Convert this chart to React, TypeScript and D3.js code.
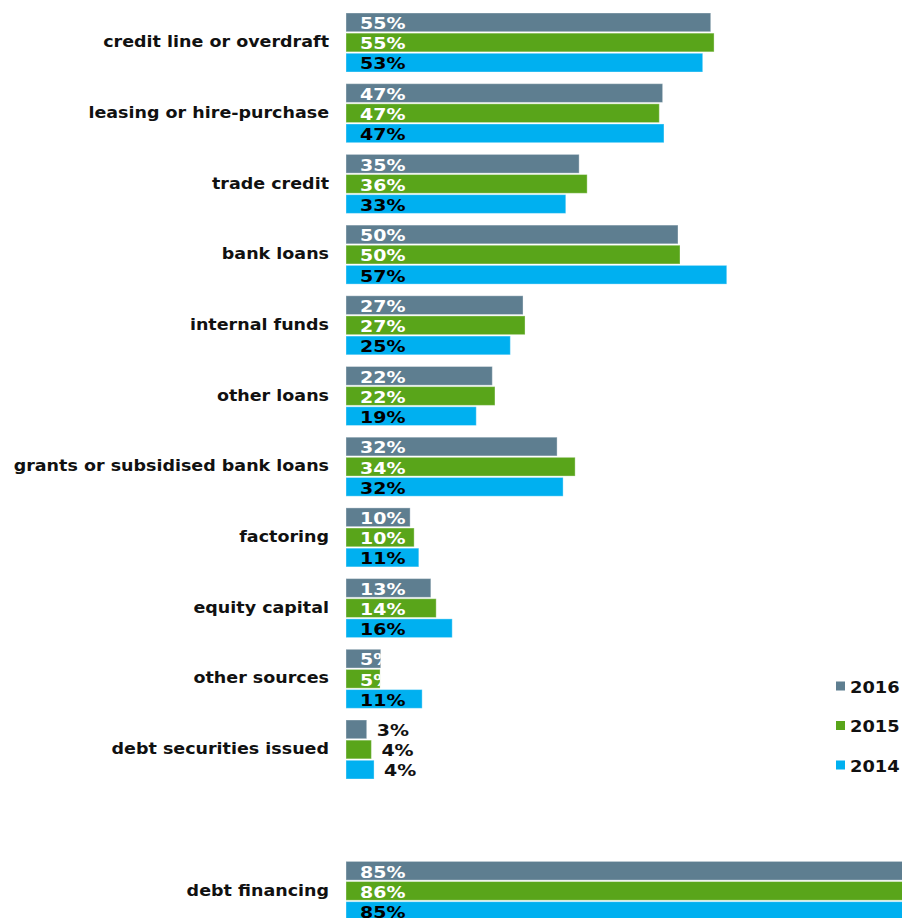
import React from "react";
import * as d3 from "d3";

const categories = [
  "credit line or overdraft",
  "leasing or hire-purchase",
  "trade credit",
  "bank loans",
  "internal funds",
  "other loans",
  "grants or subsidised bank loans",
  "factoring",
  "equity capital",
  "other sources",
  "debt securities issued",
  "",
  "debt financing",
];
const series = ["2016", "2015", "2014"];
const values2016 = [54.6, 47.4, 34.9, 49.7, 26.5, 21.9, 31.6, 9.6, 12.7, 5.2, 3.1, null, 85.2];
const values2015 = [55.1, 46.9, 36.1, 50.0, 26.8, 22.3, 34.3, 10.2, 13.5, 5.1, 3.8, null, 86.0];
const values2014 = [53.4, 47.6, 32.9, 57.0, 24.6, 19.5, 32.5, 10.9, 15.9, 11.4, 4.2, null, 85.0];
const labels2016 = ["55%", "47%", "35%", "50%", "27%", "22%", "32%", "10%", "13%", "5%", "3%", "", "85%"];
const labels2015 = ["55%", "47%", "36%", "50%", "27%", "22%", "34%", "10%", "14%", "5%", "4%", "", "86%"];
const labels2014 = ["53%", "47%", "33%", "57%", "25%", "19%", "32%", "11%", "16%", "11%", "4%", "", "85%"];

const colors = ["#5e7e90", "#59a51a", "#00b0f0"];
const textColors = ["#ffffff", "#ffffff", "#000000"];

const W = 902;
const H = 918;
const FONT = "'DejaVu Sans', Verdana, sans-serif";

export default function App() {
  const x = d3.scaleLinear().domain([0, 100]).range([346, 346 + 668]);
  const y = d3
    .scaleBand<string>()
    .domain(categories.map((c, i) => String(i)))
    .range([13, 13 + 70.7 * categories.length])
    .paddingInner(0)
    .paddingOuter(0);
  const sub = d3.scaleBand<string>().domain(series).range([0, 59]).paddingInner(0.07);
  const allValues = [values2016, values2015, values2014];
  const allLabels = [labels2016, labels2015, labels2014];

  return (
    <svg
      width={W}
      height={H}
      style={{ position: "absolute", left: 0, top: 0, background: "#fff" }}
      fontFamily={FONT}
    >
      <defs>
        {categories.map((c, i) =>
          series.map((s, k) => {
            const v = allValues[k][i];
            if (v == null) return null;
            const y0 = (y(String(i)) as number) + (sub(s) as number);
            return (
              <clipPath id={`clip-${i}-${k}`} key={`c${i}${k}`}>
                <rect x={x(0)} y={y0 - 4} width={x(v) - x(0)} height={sub.bandwidth() + 8} />
              </clipPath>
            );
          })
        )}
      </defs>
      {categories.map((c, i) => {
        const g0 = y(String(i)) as number;
        return (
          <g key={i}>
            {c && (
              <text
                transform={`translate(329, ${g0 + 29}) scale(1.13, 1)`}
                textAnchor="end"
                dominantBaseline="central"
                fontSize={15.5}
                fontWeight="bold"
                fill="#111"
              >
                {c}
              </text>
            )}
            {series.map((s, k) => {
              const v = allValues[k][i];
              if (v == null) return null;
              const y0 = g0 + (sub(s) as number);
              const w = x(v) - x(0);
              const inside = w > 30;
              const tx = inside ? x(0) + 14 : x(v) + 10;
              const ty = y0 + sub.bandwidth() / 2 + 0.8;
              return (
                <g key={s}>
                  <rect
                    x={x(0)}
                    y={y0}
                    width={w}
                    height={sub.bandwidth()}
                    fill={colors[k]}
                    stroke="#ffffff"
                    strokeOpacity={0.35}
                    strokeWidth={1}
                  />
                  <g clipPath={inside ? `url(#clip-${i}-${k})` : undefined}>
                    <text
                      transform={`translate(${tx}, ${ty}) scale(1.15, 1)`}
                      dominantBaseline="central"
                      fontSize={16.5}
                      fontWeight="bold"
                      fill={inside ? textColors[k] : "#111"}
                    >
                      {allLabels[k][i]}
                    </text>
                  </g>
                </g>
              );
            })}
          </g>
        );
      })}
      {series.map((s, k) => (
        <g key={s} transform={`translate(836, ${686 + k * 39.5})`}>
          <rect x={0} y={-4.5} width={9} height={9} fill={colors[k]} />
          <text
            transform="translate(14, 1) scale(1.15, 1)"
            dominantBaseline="central"
            fontSize={15.5}
            fontWeight="bold"
            fill="#111"
          >
            {s}
          </text>
        </g>
      ))}
    </svg>
  );
}
